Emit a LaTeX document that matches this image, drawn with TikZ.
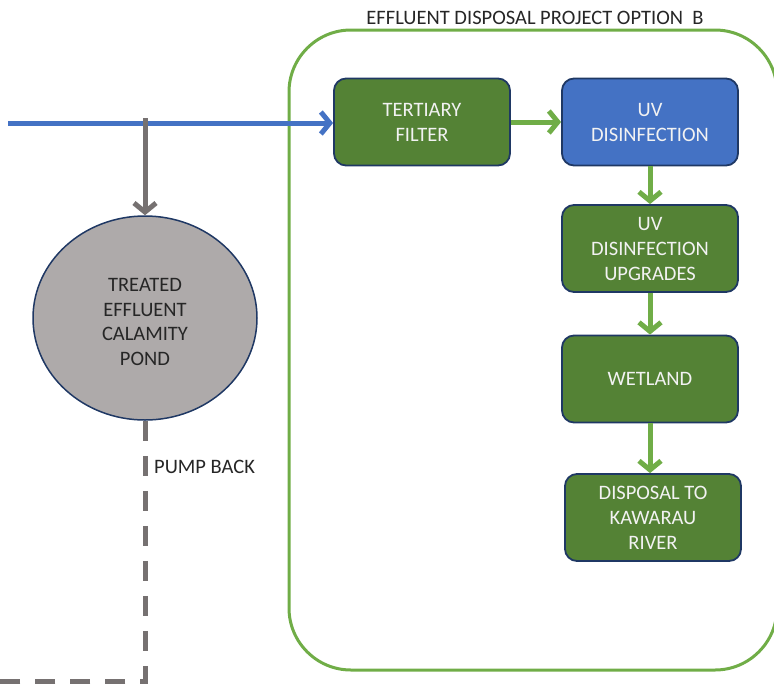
\documentclass[tikz,border=0pt]{standalone}
\usepackage{fontspec}
\setmainfont{Carlito}
\usetikzlibrary{arrows.meta,shapes.geometric}
\definecolor{boxgreen}{HTML}{548235}
\definecolor{linegreen}{HTML}{70AD47}
\definecolor{boxblue}{HTML}{4472C4}
\definecolor{navy}{HTML}{1F3864}
\definecolor{pondgray}{HTML}{AEAAAA}
\definecolor{pipegray}{HTML}{767171}
\definecolor{textdark}{HTML}{262626}
\tikzset{
  stage/.style={draw=navy, line width=1.8pt, rounded corners=12pt, minimum width=176pt, minimum height=87pt,
    text=white!95!black, align=center, font=\fontsize{20.5}{25}\selectfont, inner sep=2pt},
  greenstage/.style={stage, fill=boxgreen},
  bluestage/.style={stage, fill=boxblue},
  flow/.style={draw=linegreen, line width=5pt, -{Straight Barb[length=9pt,width=22pt]}},
  bluepipe/.style={draw=boxblue, line width=5pt, -{Straight Barb[length=9pt,width=22pt]}},
  graypipe/.style={draw=pipegray, line width=5pt, -{Straight Barb[length=9pt,width=22pt]}},
  pumpback/.style={draw=pipegray, line width=5pt, dash pattern=on 20pt off 15pt},
  lbl/.style={text=textdark, font=\fontsize{20.5}{24}\selectfont, inner sep=0pt}
}
\begin{document}
\begin{tikzpicture}[x=1pt,y=-1pt]
\useasboundingbox (0,0) rectangle (774,686);
% project boundary
\draw[linegreen, line width=3pt, rounded corners=62pt] (289,30) rectangle (777,670);
\node[lbl] (title) at (535,18) {EFFLUENT DISPOSAL PROJECT OPTION\ \ B};
% stages
\node[greenstage] (tert) at (422,122) {TERTIARY\\FILTER};
\node[bluestage] (uv) at (650,122) {UV\\DISINFECTION};
\node[greenstage] (upg) at (650,248.5) {UV\\DISINFECTION\\UPGRADES};
\node[greenstage] (wet) at (650,379) {WETLAND};
\node[greenstage] (disp) at (653,517.5) {DISPOSAL TO\\KAWARAU\\RIVER};
% pond
\node[ellipse, draw=navy, line width=1.5pt, fill=pondgray, minimum width=224pt, minimum height=204pt] (pond) at (145,318) {};
\node[text=textdark, align=center, font=\fontsize{20.5}{24.5}\selectfont, inner sep=0pt] (pondtext) at (145,322)
  {TREATED\\EFFLUENT\\CALAMITY\\POND};
% inflow pipe
\coordinate (inlet) at (8,123);
\coordinate (tee) at (145,118);
\draw[bluepipe] (inlet) -- (tert.west |- inlet);
\draw[graypipe] (tee) -- (pond.north);
% flows
\draw[flow] (tert.east) -- (uv.west);
\draw[flow] (uv.south) -- (upg.north);
\draw[flow] (upg.south) -- (wet.north);
\draw[flow] (wet.south) -- (wet.south |- disp.north);
% pump back
\coordinate (corner) at (145,681);
\coordinate (outlet) at (0,681);
\draw[pumpback] (pond.south) -- (corner) -- (outlet);
\node[lbl, anchor=west] (pb) at (154,467) {PUMP BACK};
\end{tikzpicture}
\end{document}
